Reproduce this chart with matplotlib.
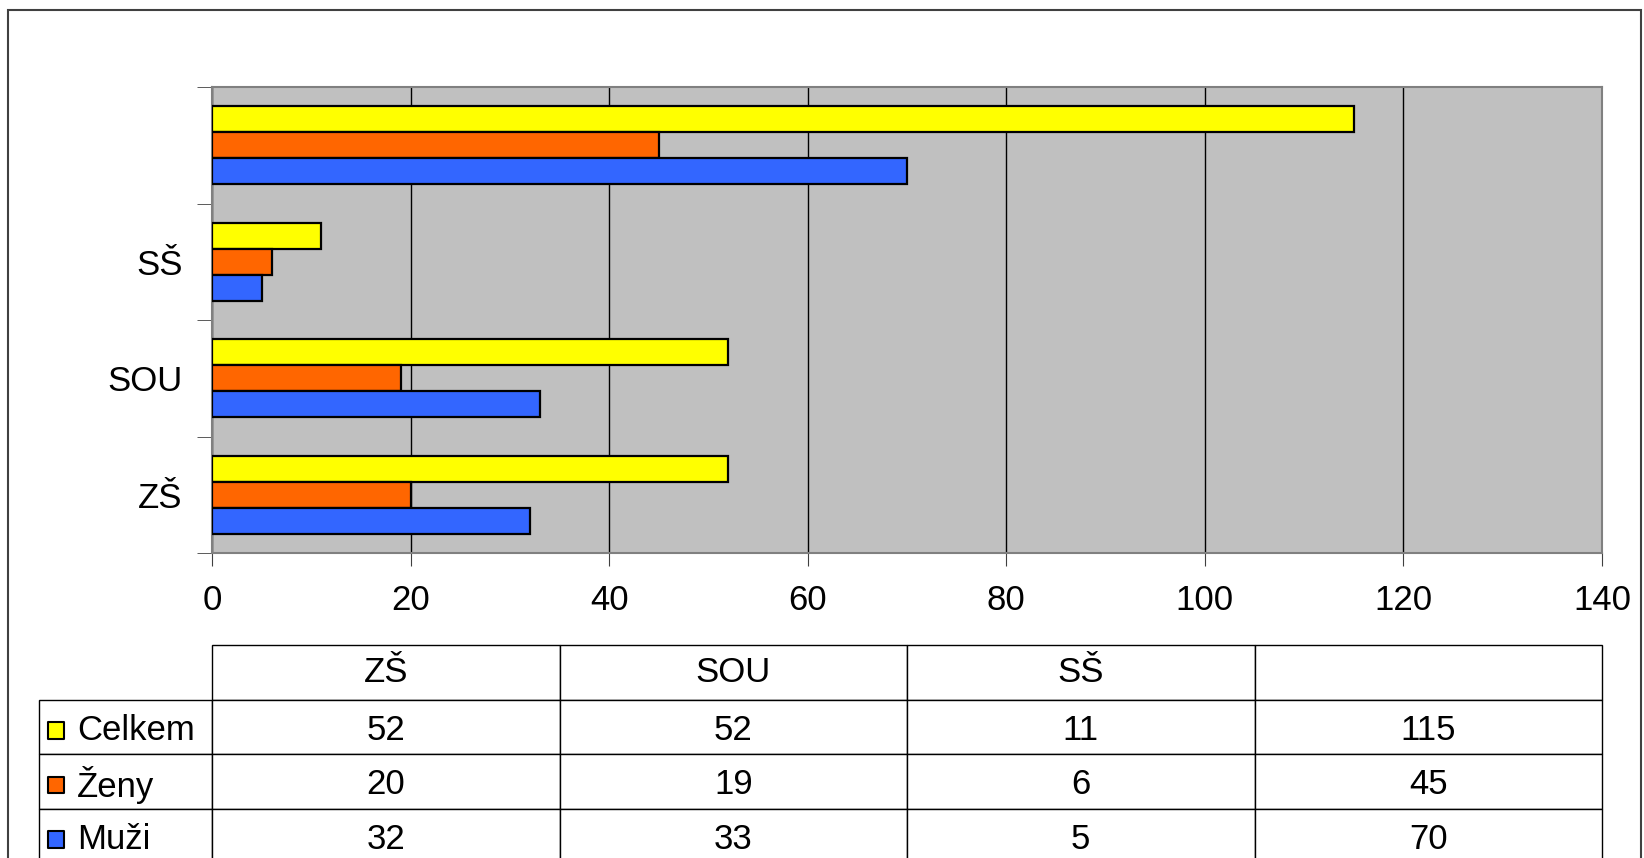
import numpy as np
import matplotlib.pyplot as plt
from matplotlib.patches import Rectangle

plt.rcParams['font.family'] = ['Liberation Sans', 'DejaVu Sans']

categories = ["ZŠ", "SOU", "SŠ", ""]
series = ["Celkem", "Ženy", "Muži"]
celkem = [52, 52, 11, 115]
zeny = [20, 19, 6, 45]
muzi = [32, 33, 5, 70]
colors = ["#FFFF00", "#FF6600", "#3366FF"]
xticks = [0, 20, 40, 60, 80, 100, 120, 140]
fs = 25

W, H = 1644, 858
fig = plt.figure(figsize=(W / 100, H / 100), dpi=100)

# outer frame of the chart
fig.patches.append(Rectangle((8 / W, -0.1), (1641 - 8) / W, (H - 10) / H + 0.1,
                             transform=fig.transFigure, fill=False,
                             edgecolor='#404040', lw=1.5))

ax = fig.add_axes([212 / W, (H - 553) / H, 1390 / W, 466 / H])
ax.set_facecolor('#C0C0C0')
y = np.arange(len(categories))
h = 0.222
for i, (vals, col) in enumerate(zip([celkem, zeny, muzi], colors)):
    ax.barh(y + (1 - i) * h, vals, height=h, color=col, edgecolor='black', lw=1.6, zorder=3)

ax.set_xlim(0, 140)
ax.set_ylim(-0.5, 3.5)
ax.set_xticks(xticks)
ax.tick_params(axis='x', labelsize=fs, length=9, pad=13, color='#404040')
ax.grid(axis='x', color='black', lw=1)
ax.set_axisbelow(True)
ax.set_yticks(y)
ax.set_yticklabels(categories)
ax.set_yticks(np.arange(-0.5, 4, 1), minor=True)
ax.tick_params(axis='y', which='major', length=0, labelsize=fs, pad=21)
ax.tick_params(axis='y', which='minor', length=11, color='#404040')
for s in ax.spines.values():
    s.set_color('#808080')
    s.set_linewidth(1.5)

# data table below the chart
tw, th = 1602 - 39, 218
tax = fig.add_axes([39 / W, (H - 863) / H, tw / W, th / H])
tax.axis('off')
cell_text = [[""] + categories]
for name, vals in zip(series, [celkem, zeny, muzi]):
    cell_text.append([""] + [str(v) for v in vals])
tb = tax.table(cellText=cell_text, cellLoc='center',
               colWidths=[173] + [347.5] * 4, bbox=[0, 0, 1, 1])
tb.auto_set_font_size(False)
tb.set_fontsize(fs)
for (r, c), cell in tb.get_celld().items():
    cell.set_edgecolor('black')
    cell.set_linewidth(1)
    if r > 0:
        cell.get_text().set_va('center_baseline')
tb[0, 0].visible_edges = 'open'

rows_y = [1 - (31 + 54.5 * (i + 1)) / th for i in range(3)]
tax.scatter([17 / tw] * 3, rows_y, transform=tax.transAxes, marker='s', s=140,
            c=colors, edgecolors='black', linewidths=1.5, clip_on=False, zorder=5)
for name, yy in zip(series, rows_y):
    tax.text(38 / tw, yy, name, transform=tax.transAxes, fontsize=fs,
             ha='left', va='center')

fig.savefig('out.png', dpi=100)
